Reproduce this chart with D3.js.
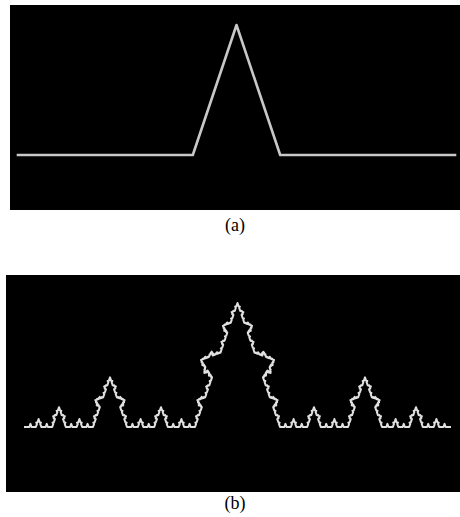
<!DOCTYPE html>
<html>
<head>
<meta charset="utf-8">
<script src="https://cdn.jsdelivr.net/npm/d3@7"></script>
<style>
  body { margin: 0; background: #fff; }
  svg { display: block; }
</style>
</head>
<body>
<svg id="canvas_koch"></svg>
<script>
// generator of the curve (unit base, y up)
var genX = [0, 0.4, 0.5, 0.6, 1];
var genY = [0, 0, 0.3, 0, 0];
// how far each piece's copy bulges out (relative to a similar copy)
var genBump = [1, 0.4, 0.4, 1];
var panelLabels = ["(a)", "(b)"];
var panelDepth = [1, 5];

var width = 460, height = 517;

var svg = d3.select("#canvas_koch")
    .attr("width", width)
    .attr("height", height);

var defs = svg.append("defs");
defs.append("filter").attr("id", "soft")
    .append("feGaussianBlur").attr("stdDeviation", 0.6);

var panels = [
  {box: [10, 5, 460, 210], x: [18, 455], y: [155, 25], label: [235, 231], sw: 2.6},
  {box: [6, 275, 460, 492], x: [25, 450], y: [427, 303], label: [235, 509], sw: 2}
];

// affine maps, one per generator piece: [a, b, c, d, tx, ty]
var maps = [];
for (var k = 0; k < genX.length - 1; k++) {
  var ux = genX[k + 1] - genX[k], uy = genY[k + 1] - genY[k];
  var nx = -uy * genBump[k], ny = ux * genBump[k];
  maps.push([ux, nx, uy, ny, genX[k], genY[k]]);
}

function compose(M, T) {
  return [M[0] * T[0] + M[1] * T[2], M[0] * T[1] + M[1] * T[3],
          M[2] * T[0] + M[3] * T[2], M[2] * T[1] + M[3] * T[3],
          M[0] * T[4] + M[1] * T[5] + M[4], M[2] * T[4] + M[3] * T[5] + M[5]];
}

function build(M, depth, out) {
  if (depth == 0) {
    out.push([M[0] + M[4], M[2] + M[5]]);
    return;
  }
  maps.forEach(function(T) { build(compose(M, T), depth - 1, out); });
}

panels.forEach(function(p, i) {
  var g = svg.append("g");
  g.append("rect")
    .attr("x", p.box[0]).attr("y", p.box[1])
    .attr("width", p.box[2] - p.box[0])
    .attr("height", p.box[3] - p.box[1])
    .attr("fill", "#000");

  var x = d3.scaleLinear().domain([0, 1]).range(p.x);
  var y = d3.scaleLinear().domain([0, 0.3]).range(p.y);

  var pts = [[0, 0]];
  build([1, 0, 0, 1, 0, 0], panelDepth[i], pts);

  var line = d3.line()
    .x(function(d) { return x(d[0]); })
    .y(function(d) { return y(d[1]); });

  g.append("path")
    .attr("d", line(pts))
    .attr("fill", "none")
    .attr("stroke", i == 0 ? "#c8c8c8" : "#e0e0e0")
    .attr("stroke-width", p.sw)
    .attr("stroke-linejoin", "round")
    .attr("stroke-linecap", "square")
    .attr("filter", "url(#soft)");

  g.append("text")
    .attr("x", p.label[0]).attr("y", p.label[1])
    .attr("text-anchor", "middle")
    .attr("font-family", "Liberation Serif, Times New Roman, serif")
    .attr("font-size", 18)
    .attr("fill", "#000")
    .text(panelLabels[i]);
});
</script>
</body>
</html>
